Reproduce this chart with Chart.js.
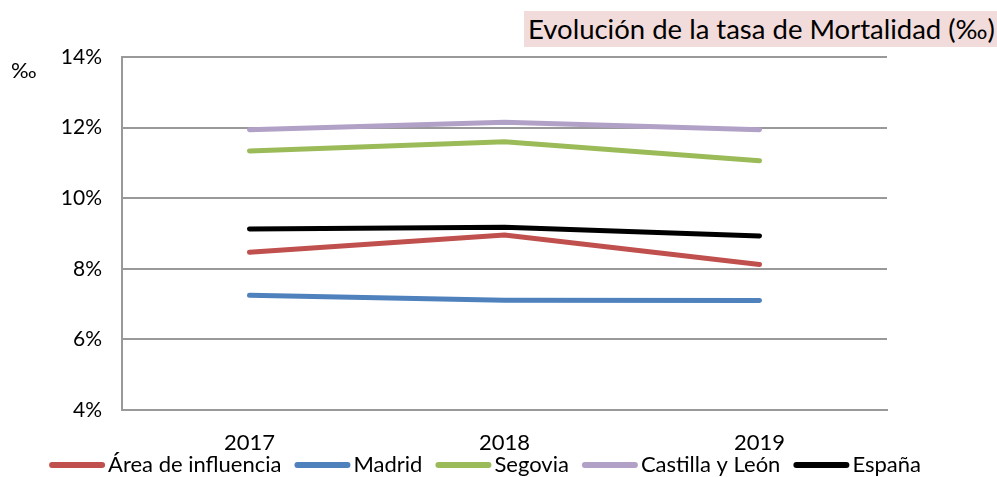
<!DOCTYPE html>
<html>
<head>
<meta charset="utf-8">
<script src="https://cdn.jsdelivr.net/npm/chart.js@4.4.1/dist/chart.umd.min.js"></script>
<style>
  html, body { margin: 0; padding: 0; background: #fff; }
  #wrap { position: relative; width: 997px; height: 477px; }
  #title {
    position: absolute; left: 524px; top: 11px; width: 469px; height: 36px;
    background: #f2dcdb; font-family: Lato, sans-serif; font-size: 27.5px;
    line-height: 36px; padding-left: 4px; color: #000; white-space: nowrap;
  }
  #unit {
    position: absolute; left: 11px; top: 56px; font-family: Lato, sans-serif;
    font-size: 22px; color: #000;
  }
</style>
</head>
<body>
<div id="wrap">
  <canvas id="myChart" width="997" height="477"></canvas>
  <div id="title">Evolución de la tasa de Mortalidad (‰)</div>
  <div id="unit">‰</div>
</div>
<script>
const years = ["2017", "2018", "2019"];
const area = [8.47, 8.96, 8.12];
const madrid = [7.25, 7.11, 7.10];
const segovia = [11.34, 11.60, 11.06];
const castilla = [11.94, 12.15, 11.94];
const espana = [9.13, 9.18, 8.93];

const mk = (label, data, color) => ({
    label: label,
    data: data,
    borderColor: color,
    backgroundColor: color,
    borderWidth: 5,
    pointRadius: 0,
    borderCapStyle: 'round',
    tension: 0
});

// legend drawn like the office one: line, small gap, text
const lineLegend = {
    id: 'lineLegend',
    afterDraw(chart) {
        const c = chart.ctx;
        const sets = chart.data.datasets;
        const lineLen = 56, gap = 3, space = 13;
        c.save();
        c.font = '22px Lato';
        c.textBaseline = 'middle';
        let total = 0;
        sets.forEach((d, i) => {
            total += lineLen + gap + c.measureText(d.label).width + (i < sets.length - 1 ? space : 0);
        });
        let x = 485 - total / 2;
        const y = 465;
        sets.forEach((d) => {
            c.strokeStyle = d.borderColor;
            c.lineWidth = 6;
            c.lineCap = 'round';
            c.beginPath();
            c.moveTo(x + 3, y);
            c.lineTo(x + lineLen - 3, y);
            c.stroke();
            x += lineLen + gap;
            c.fillStyle = '#000';
            c.fillText(d.label, x, y);
            x += c.measureText(d.label).width + space;
        });
        c.restore();
    }
};

const ctx = document.getElementById('myChart').getContext('2d');
var myChart = new Chart(ctx, {
    type: "line",
    data: {
        labels: years,
        datasets: [
            mk("Área de influencia", area, "#c0504d"),
            mk("Madrid", madrid, "#4f81bd"),
            mk("Segovia", segovia, "#9bbb59"),
            mk("Castilla y León", castilla, "#b2a1c7"),
            mk("España", espana, "#000000")
        ]
    },
    plugins: [lineLegend],
    options: {
        responsive: false,
        animation: false,
        layout: { padding: { top: 57, right: 110, left: 0, bottom: 27 } },
        plugins: {
            legend: { display: false },
            tooltip: { enabled: false }
        },
        scales: {
            x: {
                offset: true,
                grid: { display: false, drawTicks: false },
                border: { color: '#999', width: 2 },
                ticks: { font: { family: 'Lato', size: 22 }, color: '#000', padding: 20 },
                afterFit: (s) => { s.height = 40; }
            },
            y: {
                min: 4, max: 14,
                ticks: {
                    stepSize: 2,
                    font: { family: 'Lato', size: 21 },
                    color: '#000',
                    padding: 20,
                    callback: (v) => v + '%'
                },
                grid: { color: '#999', lineWidth: 2, drawTicks: false },
                border: { color: '#999', width: 2 },
                afterFit: (s) => { s.width = 122; }
            }
        }
    }
});
</script>
</body>
</html>
